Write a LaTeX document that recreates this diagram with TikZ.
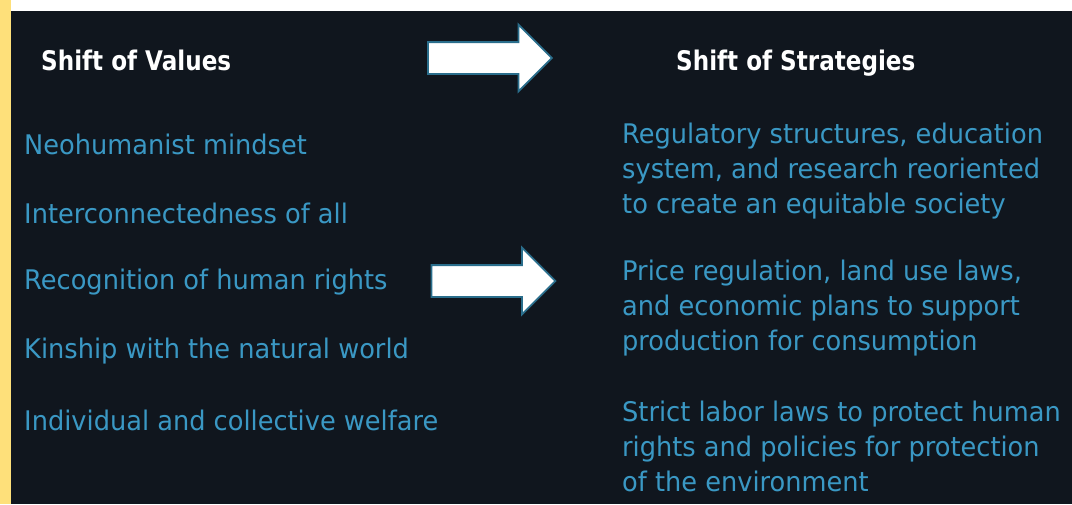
\documentclass[tikz,border=0pt]{standalone}
\usepackage{fontspec}
\setmainfont{DejaVu Sans}[FakeStretch=0.95,BoldFeatures={FakeStretch=0.855}]
\usetikzlibrary{positioning,shapes.arrows}
\definecolor{slate}{RGB}{16,22,30}
\definecolor{sun}{RGB}{254,224,122}
\definecolor{teal}{RGB}{58,152,196}
\definecolor{rim}{RGB}{42,110,140}

\begin{document}
\begin{tikzpicture}[x=1pt,y=-1pt,
    head/.style={text=white,font=\fontsize{27}{32}\selectfont\bfseries,anchor=base west,inner sep=0pt},
    item/.style={text=teal,font=\fontsize{27}{35}\selectfont,anchor=west,inner sep=0pt,align=left},
    shiftarrow/.style={single arrow,draw=rim,line width=1.8pt,fill=white,inner xsep=0pt,inner ysep=15pt,
                  minimum height=124pt,single arrow head extend=17.5pt}]

    % page
    \useasboundingbox (0,0) rectangle (1072,504);
    \fill[sun]   (0,0)  rectangle (11,504);
    \fill[white] (11,0) rectangle (1072,11);
    \fill[slate] (11,11) rectangle (1072,504);

    % titles
    \node[head]  (values)     at (41,70)  {Shift of Values};
    \node[head]  (strategies) at (676,70) {Shift of Strategies};

    % values
    \node[item]  (v1) at (24,144)                                  {Neohumanist mindset};
    \node[item]  (v2) [below=69pt of v1.west,anchor=west]          {Interconnectedness of all};
    \node[item]  (v3) [below=69pt of v2.west,anchor=west]          {Recognition of human rights};
    \node[item]  (v4) [below=69pt of v3.west,anchor=west]          {Kinship with the natural world};
    \node[item]  (v5) [below=69pt of v4.west,anchor=west]          {Individual and collective welfare};

    % strategies
    \node[item]  (s1) at (622,171)                                 {Regulatory structures, education\\system, and research reoriented\\to create an equitable society};
    \node[item]  (s2) [below=137pt of s1.west,anchor=west]         {Price regulation, land use laws,\\and economic plans to support\\production for consumption};
    \node[item]  (s3) [below=138pt of s2.west,anchor=west]         {Strict labor laws to protect human\\rights and policies for protection\\of the environment};

    % arrows
    \node[shiftarrow] (a1) at (482,58)  {};
    \node[shiftarrow] (a2) at (485.5,281) {};
\end{tikzpicture}
\end{document}
